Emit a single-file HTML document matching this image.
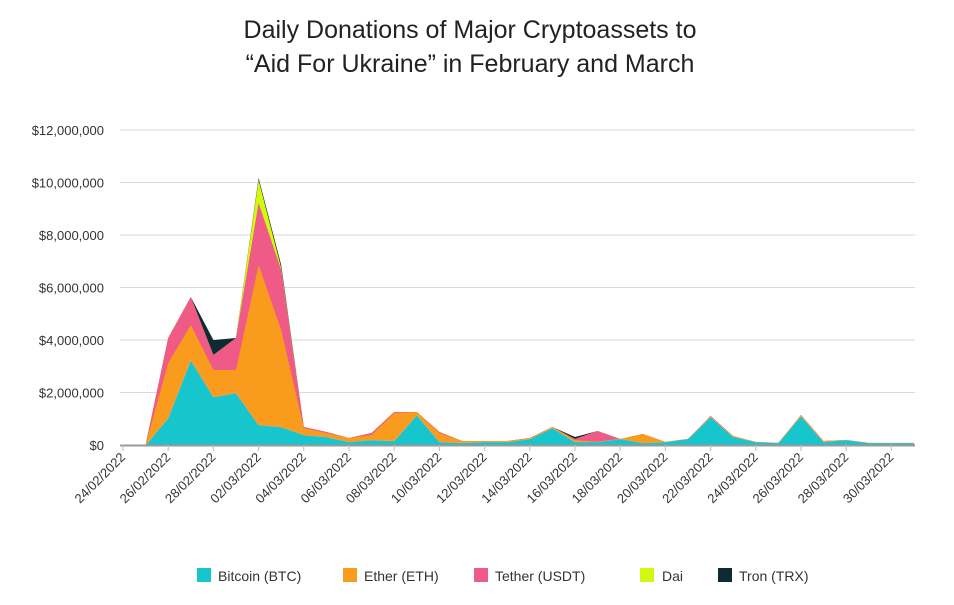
<!DOCTYPE html>
<html><head><meta charset="utf-8"><style>
body{margin:0;background:#fff;}
svg{display:block;font-family:"Liberation Sans",sans-serif;}
</style></head><body>
<svg id="s" width="954" height="605" viewBox="0 0 954 605">
<text x="470" y="38" font-size="25" text-anchor="middle" fill="#222">Daily Donations of Major Cryptoassets to</text>
<text x="470" y="72" font-size="25" text-anchor="middle" fill="#222">“Aid For Ukraine” in February and March</text>
<g id="grid"></g>
<g id="areas"></g>
<g id="axis"></g>
<g font-size="14" fill="#333">
<rect x="197" y="568" width="14" height="14" fill="#17c5cc"/><text x="218" y="581">Bitcoin (BTC)</text>
<rect x="343" y="568" width="14" height="14" fill="#f99b1c"/><text x="364" y="581">Ether (ETH)</text>
<rect x="474" y="568" width="14" height="14" fill="#f05a86"/><text x="495" y="581">Tether (USDT)</text>
<rect x="640" y="568" width="14" height="14" fill="#d4f70e"/><text x="662" y="581">Dai</text>
<rect x="718" y="568" width="14" height="14" fill="#0e2a33"/><text x="739" y="581">Tron (TRX)</text>
</g>
</svg>
<script>
var ns="http://www.w3.org/2000/svg";
function el(p,t,a,txt){var e=document.createElementNS(ns,t);for(var k in a)e.setAttribute(k,a[k]);if(txt)e.textContent=txt;p.appendChild(e);return e;}
var g=document.getElementById('grid');
var labs=["$0","$2,000,000","$4,000,000","$6,000,000","$8,000,000","$10,000,000","$12,000,000"];
for(var i=0;i<7;i++){var y=445-52.5*i;if(i>0)el(g,'line',{x1:120,x2:915,y1:y,y2:y,stroke:'#d9d9d9','stroke-width':1});
el(g,'text',{x:104,y:y+5,'font-size':13,'text-anchor':'end',fill:'#333'},labs[i]);}
var D=[[445,445,445,445,445],[445,445,445,445,445],[418,363,338,338,338],[360,325,297,297,297],[397,370,355,355,340],[393,370,338,338,338],[425,265,203,180,178],[427,330,270,268,265],[435,428,427,427,427],[437,433,432,432,432],[442,438,438,438,438],[440,435,433,433,433],[441,413,412,412,412],[415,412,412,412,412],[442,433,432,432,432],[443,441,441,441,441],[442,441,441,441,441],[442,441,441,441,441],[439,438,438,438,438],[428,427,427,427,427],[442,440,439,439,437],[442,442,431,431,431],[439,439,439,439,439],[443,434,434,434,434],[442,442,442,442,442],[439,439,439,439,439],[417,417,416,416,416],[437,436,436,436,436],[442,442,442,442,442],[443,443,443,443,443],[416,415,415,415,415],[442,441,441,441,441],[440,440,440,440,440],[443,443,443,443,443],[443,443,443,443,443],[443,443,443,443,443]];
var cols=["#17c5cc","#f99b1c","#f05a86","#d4f70e","#0e2a33"];
var A=document.getElementById('areas');
function X(i){return 123+22.6*i;}
for(var L=4;L>=0;L--){var pts=X(1)+",445 ";for(var i=1;i<D.length;i++)pts+=X(i)+","+D[i][L]+" ";pts+=X(35)+",445";
el(A,'polygon',{points:pts,fill:cols[L],stroke:(L==0?'#f5a66a':'none'),'stroke-width':0.6});}
var ax=document.getElementById('axis');
el(ax,'line',{x1:120,x2:915,y1:445.5,y2:445.5,stroke:'#999','stroke-width':2});
var dates=["24/02/2022","26/02/2022","28/02/2022","02/03/2022","04/03/2022","06/03/2022","08/03/2022","10/03/2022","12/03/2022","14/03/2022","16/03/2022","18/03/2022","20/03/2022","22/03/2022","24/03/2022","26/03/2022","28/03/2022","30/03/2022"];
for(var k=0;k<18;k++){var x=X(2*k);el(ax,'line',{x1:x,x2:x,y1:445,y2:451,stroke:'#bbb'});
el(ax,'text',{x:x+3,y:458,'font-size':13,'text-anchor':'end',fill:'#333',transform:'rotate(-45 '+(x+3)+' 458)'},dates[k]);}
</script>
</body></html>
